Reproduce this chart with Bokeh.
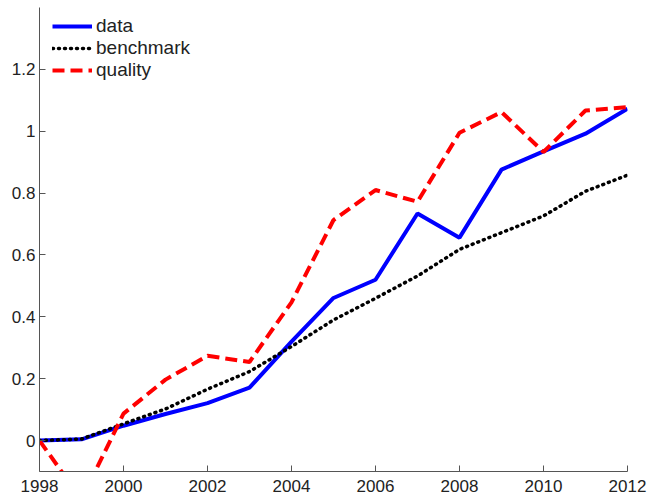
from bokeh.plotting import figure
from bokeh.models import FixedTicker, CustomJSTickFormatter, Range1d, Legend, LegendItem
from bokeh.embed import file_html
from bokeh.resources import INLINE

years = [1998, 1999, 2000, 2001, 2002, 2003, 2004, 2005, 2006, 2007, 2008, 2009, 2010, 2011, 2012]
data = [0.0, 0.004, 0.048, 0.086, 0.121, 0.171, 0.32, 0.461, 0.52, 0.734, 0.656, 0.876, 0.935, 0.992, 1.073]
benchmark = [0.0, 0.005, 0.054, 0.102, 0.166, 0.223, 0.304, 0.39, 0.46, 0.532, 0.618, 0.672, 0.726, 0.806, 0.858]
quality = [0.0, -0.19, 0.087, 0.197, 0.274, 0.254, 0.447, 0.713, 0.81, 0.772, 0.995, 1.062, 0.933, 1.067, 1.078]

x_ticks = [1998, 2000, 2002, 2004, 2006, 2008, 2010, 2012]
y_ticks = [0, 0.2, 0.4, 0.6, 0.8, 1.0, 1.2]
y_tick_labels = ["0", "0.2", "0.4", "0.6", "0.8", "1", "1.2"]

p = figure(width=650, height=500, output_backend="svg", toolbar_location=None,
           x_range=Range1d(1998, 2012), y_range=Range1d(-0.1, 1.4),
           min_border_left=39, min_border_right=23, min_border_top=7, min_border_bottom=29)
p.outline_line_color = None
p.grid.visible = False
p.background_fill_color = "white"
p.border_fill_color = "white"

font = "Liberation Sans"
for ax in (p.xaxis[0], p.yaxis[0]):
    ax.major_tick_in = 6
    ax.major_tick_out = 0
    ax.minor_tick_line_color = None
    ax.axis_line_color = "#555555"
    ax.major_tick_line_color = "#555555"
    ax.major_label_text_font = font
    ax.major_label_text_font_size = "17px"
    ax.major_label_text_color = "#222222"

p.xaxis.ticker = FixedTicker(ticks=x_ticks)
p.xaxis.major_label_standoff = 8
p.yaxis.ticker = FixedTicker(ticks=y_ticks)
p.yaxis.major_label_standoff = 4
p.yaxis.formatter = CustomJSTickFormatter(args=dict(tvals=y_ticks, tlabels=y_tick_labels), code="""
const i = tvals.findIndex(t => Math.abs(t - tick) < 1e-9);
return i >= 0 ? tlabels[i] : '';
""")

r1 = p.line(years, data, line_color="#0000FF", line_width=4)
r2 = p.line(years, benchmark, line_color="black", line_width=3.5, line_dash="1 5", line_cap="round")
r3 = p.line(years, quality, line_color="#FF0000", line_width=4, line_dash="12 6")

legend = Legend(items=[LegendItem(label="data", renderers=[r1]),
                       LegendItem(label="benchmark", renderers=[r2]),
                       LegendItem(label="quality", renderers=[r3])],
                location=(13, 390))
legend.border_line_color = None
legend.background_fill_alpha = 0
legend.padding = 0
legend.margin = 0
legend.spacing = 0
legend.glyph_width = 40
legend.glyph_height = 22
legend.label_height = 22
legend.label_standoff = 4
legend.label_text_font = font
legend.label_text_font_size = "19px"
legend.label_text_color = "#222222"
p.add_layout(legend)

open("out.html", "w").write(file_html(p, INLINE))
